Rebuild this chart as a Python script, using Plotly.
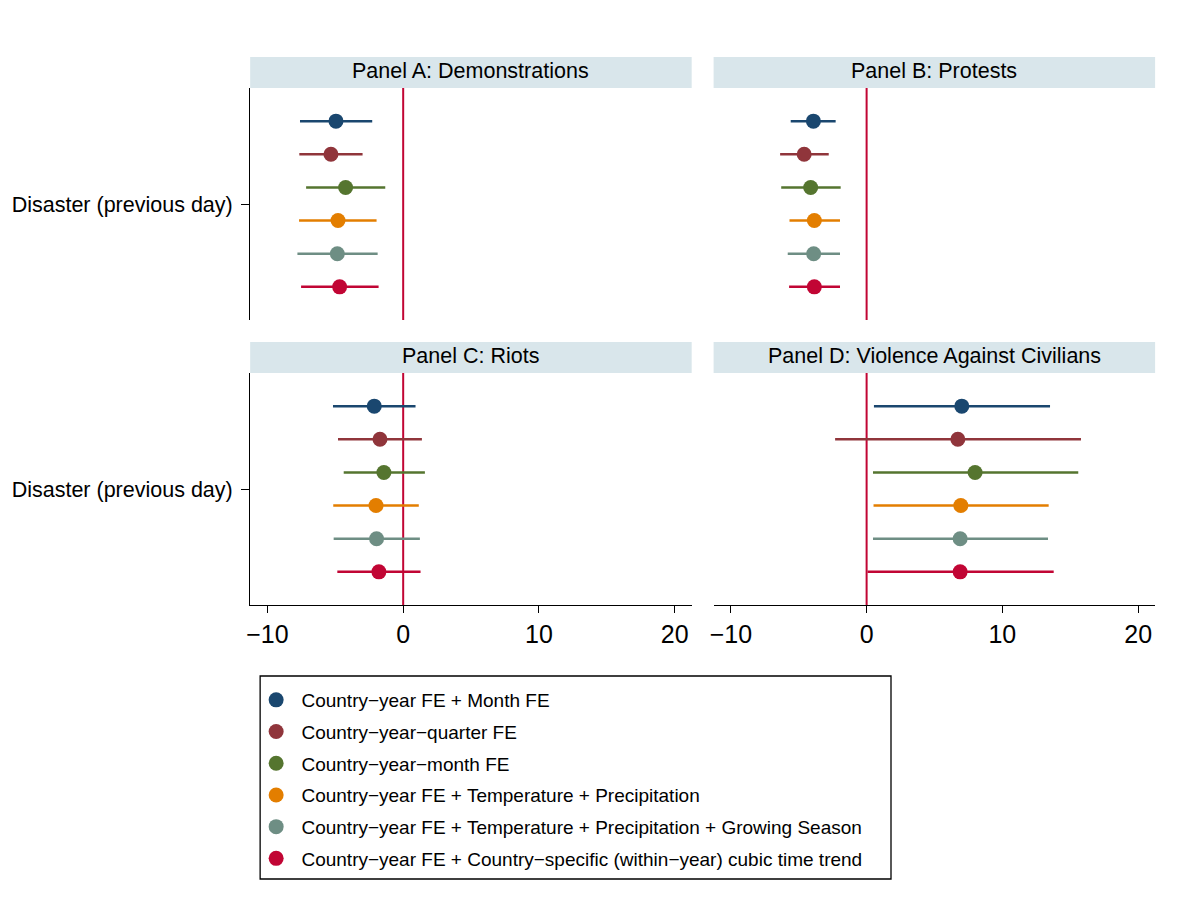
import plotly.graph_objects as go

# Specifications (legend order, top to bottom within each panel)
specs = [
    "Country−year FE + Month FE",
    "Country−year−quarter FE",
    "Country−year−month FE",
    "Country−year FE + Temperature + Precipitation",
    "Country−year FE + Temperature + Precipitation + Growing Season",
    "Country−year FE + Country−specific (within−year) cubic time trend",
]
spec_colors = ["#1a476f", "#90353b", "#55752f", "#e37e00", "#6e8e84", "#c10534"]

panel_titles = [
    "Panel A: Demonstrations",
    "Panel B: Protests",
    "Panel C: Riots",
    "Panel D: Violence Against Civilians",
]

# Point estimates and 95% confidence bounds, one list per panel
coef_a = [-4.95, -5.32, -4.24, -4.80, -4.85, -4.68]
low_a = [-7.60, -7.65, -7.15, -7.67, -7.79, -7.52]
high_a = [-2.28, -2.99, -1.32, -1.96, -1.88, -1.81]

coef_b = [-3.92, -4.60, -4.12, -3.85, -3.90, -3.85]
low_b = [-5.59, -6.37, -6.29, -5.68, -5.81, -5.71]
high_b = [-2.28, -2.79, -1.91, -1.96, -1.96, -1.96]

coef_c = [-2.13, -1.71, -1.42, -2.00, -1.96, -1.79]
low_c = [-5.17, -4.80, -4.38, -5.15, -5.12, -4.85]
high_c = [0.91, 1.38, 1.60, 1.15, 1.23, 1.28]

coef_d = [7.01, 6.72, 7.99, 6.94, 6.89, 6.89]
low_d = [0.54, -2.32, 0.47, 0.51, 0.47, 0.07]
high_d = [13.51, 15.79, 15.59, 13.41, 13.36, 13.78]

coef_label = "Disaster (previous day)"
x_ticks = [-10, 0, 10, 20]

panels = [
    (coef_a, low_a, high_a),
    (coef_b, low_b, high_b),
    (coef_c, low_c, high_c),
    (coef_d, low_d, high_d),
]

W, H = 1187, 913
FONT = "Liberation Sans, Arial, Helvetica, sans-serif"


def px_x(v):
    return v / W


def px_y(v):
    return 1 - v / H


# panel geometry in pixels: (left, right, top, bottom)
boxes = [
    (247, 690, 88, 320),
    (712, 1155, 88, 320),
    (247, 690, 373, 605),
    (712, 1155, 373, 605),
]
strip_h = 31

fig = go.Figure()
layout = {}
shapes = []
annotations = []

for p, ((coef, lo, hi), (l, r, t, b)) in enumerate(zip(panels, boxes)):
    ax = "" if p == 0 else str(p + 1)
    xname, yname = "x" + ax, "y" + ax
    for i in range(len(specs)):
        fig.add_trace(go.Scatter(
            x=[coef[i]], y=[i + 1],
            xaxis=xname, yaxis=yname,
            mode="markers",
            marker=dict(color=spec_colors[i], size=15),
            error_x=dict(type="data", symmetric=False,
                         array=[hi[i] - coef[i]], arrayminus=[coef[i] - lo[i]],
                         color=spec_colors[i], thickness=2.5, width=0),
            name="\u00a0" + specs[i],
            legendgroup="g%d" % i,
            showlegend=(p == 0),
        ))
    left_col = p in (0, 2)
    bottom_row = p in (2, 3)
    layout["xaxis" + ax] = dict(
        domain=[px_x(l), px_x(r)], range=[-11.27, 21.25], anchor=yname,
        showgrid=False, zeroline=False,
        showline=bottom_row, linecolor="#000000", linewidth=1.3,
        showticklabels=bottom_row, ticks="outside" if bottom_row else "",
        ticklen=7, tickwidth=1.3, tickcolor="#000000",
        tickvals=x_ticks, tickfont=dict(family=FONT, size=25, color="#000000"),
    )
    layout["yaxis" + ax] = dict(
        domain=[px_y(b), px_y(t)], range=[7, 0], anchor=xname,
        showgrid=False, zeroline=False,
        showline=left_col, linecolor="#000000", linewidth=1.3,
        showticklabels=left_col, ticks="outside" if left_col else "",
        ticklen=8, tickwidth=1.3, tickcolor="#000000",
        tickvals=[3.5], ticktext=[coef_label], ticklabelstandoff=4,
        tickfont=dict(family=FONT, size=21.5, color="#000000"),
    )
    # reference line at zero
    shapes.append(dict(type="line", xref=xname, yref=yname + " domain",
                       x0=0, x1=0, y0=0, y1=1, layer="below",
                       line=dict(color="#c10534", width=2)))
    # panel title strip
    shapes.append(dict(type="rect", xref="paper", yref="paper",
                       x0=px_x(l), x1=px_x(r), y0=px_y(t), y1=px_y(t - strip_h),
                       fillcolor="#d9e6eb", line=dict(width=0), layer="below"))
    annotations.append(dict(text=panel_titles[p], xref="paper", yref="paper",
                            x=(px_x(l) + px_x(r)) / 2, y=px_y(t - strip_h / 2 - 1),
                            xanchor="center", yanchor="middle", showarrow=False,
                            font=dict(family=FONT, size=21.5, color="#000000")))

# legend frame
shapes.append(dict(type="rect", xref="paper", yref="paper",
                   x0=px_x(257), x1=px_x(890), y0=px_y(879), y1=px_y(676),
                   fillcolor="rgba(0,0,0,0)", line=dict(color="#000000", width=1.3)))

fig.update_layout(
    **layout,
    width=W, height=H,
    margin=dict(l=0, r=0, t=0, b=0),
    paper_bgcolor="#ffffff", plot_bgcolor="#ffffff",
    shapes=shapes, annotations=annotations,
    showlegend=True,
    legend=dict(x=px_x(253), y=px_y(681), xanchor="left", yanchor="top",
                bgcolor="rgba(0,0,0,0)", borderwidth=0,
                traceorder="grouped", tracegroupgap=4,
                font=dict(family=FONT, size=19, color="#000000")),
)

fig.write_html("out.html")
